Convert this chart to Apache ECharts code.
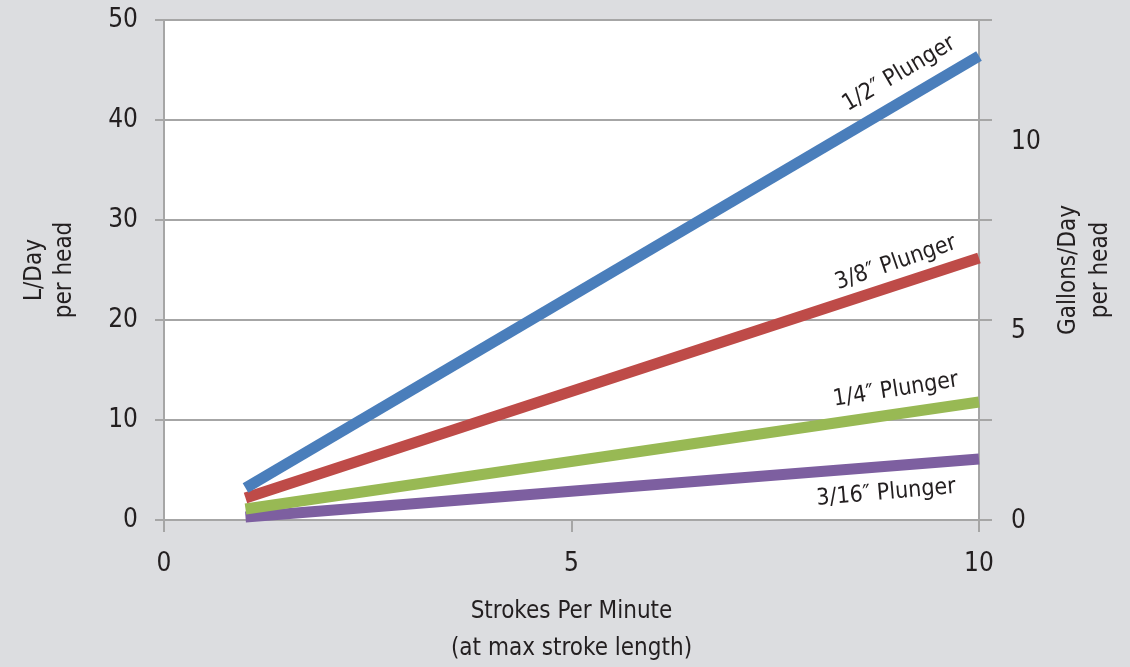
<!DOCTYPE html>
<html><head><meta charset="utf-8">
<script src="https://cdn.jsdelivr.net/npm/echarts@6/dist/echarts.min.js"></script>
<style>html,body{margin:0;padding:0;background:#dcdde0;}#c{width:1130px;height:667px;}</style>
</head><body><div id="c"></div>
<script>
var strokes = [1, 10];
var half = [3.2, 46.4];
var threeEighths = [2.2, 26.2];
var quarter = [1.1, 11.8];
var threeSixteenths = [0.3, 6.1];
var seriesNames = ['1/2″ Plunger', '3/8″ Plunger', '1/4″ Plunger', '3/16″ Plunger'];
var xTicks = [0, 5, 10];
var litreTicks = [0, 10, 20, 30, 40, 50];
var gallonTicks = [0, 5, 10];
var litreMax = 50;
var galPerLitre = 1 / 3.78541;

var FONT = '"Liberation Sans Narrow","DejaVu Sans Condensed",sans-serif';
var TXT = '#231f20';
var GRID = '#a6a6a6';

function pts(ys){ return strokes.map(function(x,i){ return [x, ys[i]]; }); }

// label placement (center in data coords), rotation
var labelCfg = [
  {c:[9.02, 44.6], r:30.5},
  {c:[8.98, 25.7], r:19},
  {c:[8.98, 13.0], r:9},
  {c:[8.86, 2.7], r:5}
];
var colors = ['#4a7ebb', '#be4b48', '#98b954', '#7d5fa0'];
var allData = [half, threeEighths, quarter, threeSixteenths];

var series = allData.map(function(d, i){
  return {
    type:'line', name:seriesNames[i], data:pts(d), showSymbol:false, symbol:'none',
    lineStyle:{color:colors[i], width:11, cap:'butt'}, z: 10 - i,
    silent:true, animation:false,
    markPoint:{
      symbol:'circle', symbolSize:0, silent:true, animation:false,
      data:[{coord:labelCfg[i].c, value:seriesNames[i]}],
      label:{show:true, position:'inside', formatter:seriesNames[i], rotate:labelCfg[i].r,
        color:TXT, fontFamily:FONT, fontSize:23, align:'center', verticalAlign:'middle'}
    }
  };
});

var chart = echarts.init(document.getElementById('c'), null, {renderer:'canvas'});
chart.setOption({
  backgroundColor:'#dcdde0',
  animation:false,
  grid:{left:164, right:151, top:20, bottom:147, show:true, backgroundColor:'#ffffff', borderWidth:0,
        containLabel:false, outerBoundsMode:'none'},
  xAxis:{
    type:'value', min:xTicks[0], max:xTicks[xTicks.length-1], interval:5,
    name:'Strokes Per Minute\n(at max stroke length)', nameLocation:'middle', nameGap:73,
    nameTextStyle:{color:TXT, fontFamily:FONT, fontSize:24, lineHeight:37, verticalAlign:'top'},
    axisLine:{show:true, onZero:false, lineStyle:{color:GRID, width:2}},
    axisTick:{show:true, length:12, lineStyle:{color:GRID, width:2}},
    axisLabel:{color:TXT, fontFamily:FONT, fontSize:26, margin:31},
    splitLine:{show:false}
  },
  yAxis:[
    {
      type:'value', min:0, max:litreMax, interval:10, position:'left',
      name:'L/Day\nper head', nameLocation:'middle', nameGap:84, nameRotate:90,
      nameTextStyle:{color:TXT, fontFamily:FONT, fontSize:24, lineHeight:30},
      axisLine:{show:true, lineStyle:{color:GRID, width:2}},
      axisTick:{show:true, length:9, lineStyle:{color:GRID, width:2}},
      axisLabel:{color:TXT, fontFamily:FONT, fontSize:26, margin:26},
      splitLine:{show:true, lineStyle:{color:GRID, width:2}}
    },
    {
      type:'value', min:0, max:litreMax, interval:10, position:'right',
      axisLine:{show:true, lineStyle:{color:GRID, width:2}},
      axisTick:{show:true, length:13, lineStyle:{color:GRID, width:2}},
      axisLabel:{show:false}, splitLine:{show:false}
    },
    {
      type:'value', min:0, max:litreMax * galPerLitre, interval:5, position:'right',
      name:'Gallons/Day\nper head', nameLocation:'middle', nameGap:74, nameRotate:90,
      nameTextStyle:{color:TXT, fontFamily:FONT, fontSize:24, lineHeight:32},
      axisLine:{show:false}, axisTick:{show:false},
      axisLabel:{color:TXT, fontFamily:FONT, fontSize:26, margin:32, customValues:gallonTicks,
                 verticalAlign:'top', padding:[-12,0,0,0]},
      splitLine:{show:false}
    }
  ],
  series: series
});
</script>
</body></html>
